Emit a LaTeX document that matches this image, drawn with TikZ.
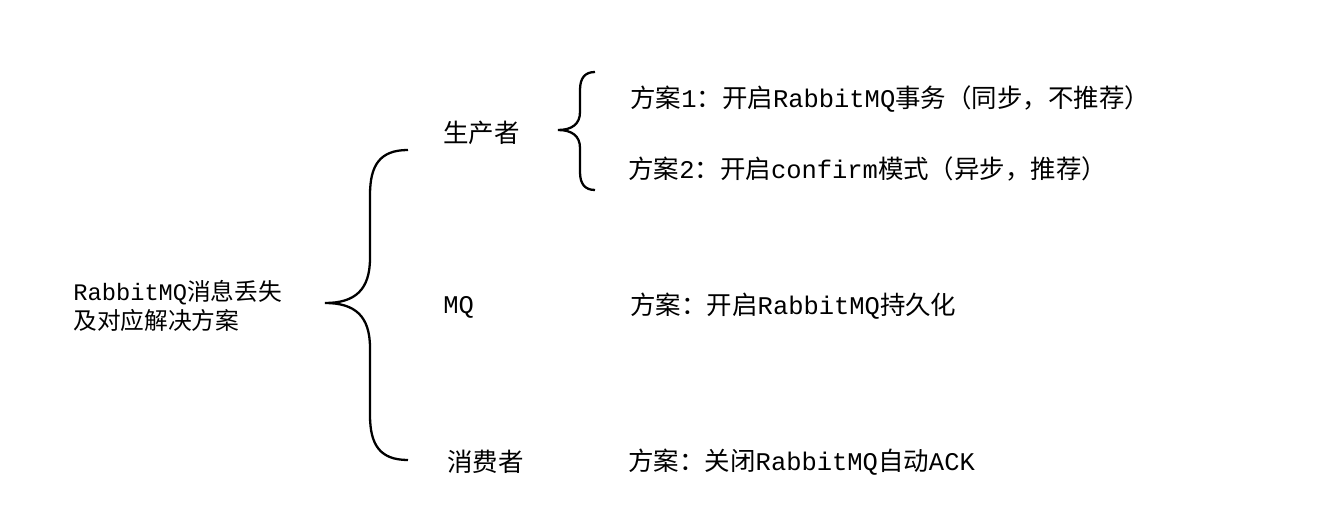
\documentclass[tikz,border=0pt]{standalone}
\usepackage{fontspec}
\setmainfont{Liberation Mono}
\newfontfamily\cj{Noto Sans CJK SC}
\newcommand{\zh}[1]{{\cj #1}}
\begin{document}
\begin{tikzpicture}[x=0.02cm,y=-0.02cm,
  lbl/.style={anchor=west,inner sep=0pt,font=\fontsize{14.5}{18}\selectfont},
  br/.style={line width=1.3pt,black}]
\useasboundingbox (0,0) rectangle (1329,516);
\node[lbl,align=left,font=\fontsize{13.5}{17}\selectfont] (root) at (73,306) {RabbitMQ\zh{消息丢失}\\\zh{及对应解决方案}};
\node[lbl] (p) at (443,133) {\zh{生产者}};
\node[lbl] (mq) at (443,307) {MQ};
\node[lbl] (c) at (447,462) {\zh{消费者}};
\node[lbl] (s1) at (630,99) {\zh{方案}1\zh{：开启}RabbitMQ\zh{事务（同步，不推荐）}};
\node[lbl] (s2) at (628,169) {\zh{方案}2\zh{：开启}confirm\zh{模式（异步，推荐）}};
\node[lbl] (s3) at (630,306) {\zh{方案：开启}RabbitMQ\zh{持久化}};
\node[lbl] (s4) at (628,462) {\zh{方案：关闭}RabbitMQ\zh{自动}ACK};
% big brace
\draw[br] (408,150) .. controls (380,150) and (370,165) .. (370,195)
  -- (370,258) .. controls (370,290) and (355,303) .. (325,303)
  .. controls (355,303) and (370,316) .. (370,348)
  -- (370,415) .. controls (370,445) and (380,460) .. (408,460);
% small brace
\draw[br] (595,72) .. controls (585,72) and (580,78) .. (580,90)
  -- (580,112) .. controls (580,124) and (572,130) .. (558,130)
  .. controls (572,130) and (580,136) .. (580,148)
  -- (580,172) .. controls (580,184) and (585,190) .. (595,190);
\end{tikzpicture}
\end{document}
